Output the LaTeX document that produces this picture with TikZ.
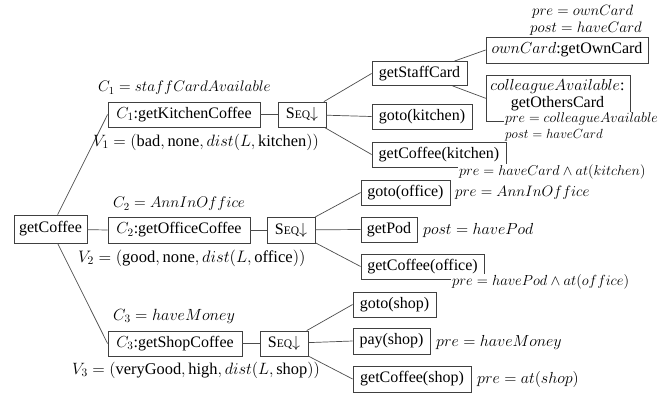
\RequirePackage{fix-cm}
\documentclass[tikz,border=0pt]{standalone}
\usepackage{fontspec}
\setmainfont{Liberation Serif}
\newcommand\up[1]{\mbox{#1}}
\newcommand\seqop{S{\fontsize{11.5}{12}\selectfont EQ}$\downarrow$}
\newcommand\fs[1]{\fontsize{#1}{#1}\selectfont}
\begin{document}
\begin{tikzpicture}[x=1pt,y=-1pt,
  font=\fontsize{16}{17}\selectfont,
  box/.style={draw=black!75, line width=0.8pt, inner sep=0pt, minimum height=25pt},
  lab/.style={inner sep=0pt, anchor=west},
  cover/.style={fill=white, inner xsep=1pt, inner ysep=1pt, anchor=west},
  edge/.style={draw=black!70, line width=0.7pt}]
\useasboundingbox (0,0) rectangle (660,394);
% main boxes
\node[box, minimum width=73pt, minimum height=28pt] (gc) at (50.5,229) {getCoffee};
\node[box, minimum width=152pt] (k) at (184,114.5) {$C_1$:getKitchenCoffee};
\node[box, minimum width=48pt] (s1) at (302,114.5) {\seqop};
\node[box, minimum width=142pt, minimum height=26pt] (o) at (179,230) {$C_2$:getOfficeCoffee};
\node[box, minimum width=48pt, minimum height=26pt] (s2) at (291,230) {\seqop};
\node[box, minimum width=134pt] (sh) at (175,343.5) {$C_3$:getShopCoffee};
\node[box, minimum width=48pt] (s3) at (284,343.5) {\seqop};
% leaves
\node[box, minimum width=95pt, minimum height=24pt] (sc) at (419.5,73.5) {getStaffCard};
\node[box, minimum width=100pt] (gk) at (422,116.5) {goto(kitchen)};
\node[box, minimum width=134pt] (gck) at (439,154.5) {getCoffee(kitchen)\hspace{10pt}};
\node[box, minimum width=162pt, minimum height=26pt] (own) at (567,50) {$ownCard$:getOwnCard};
\node[box, minimum width=144pt, minimum height=46pt, anchor=north west] (col) at (486,75) {};
\node[align=center, inner sep=0pt] (colt) at (557.5,95) {$colleagueAvailable$:\\getOthersCard};
\node[box, minimum width=89pt] (gof) at (405.5,192.5) {goto(office)};
\node[box, minimum width=56pt] (gp) at (389,229.5) {getPod};
\node[box, minimum width=123pt] (gco) at (422.5,266.5) {getCoffee(office)\hspace{4pt}};
\node[box, minimum width=83pt] (gs) at (394.5,304.5) {goto(shop)};
\node[box, minimum width=77pt, minimum height=26pt] (ps) at (391.5,341) {pay(shop)};
\node[box, minimum width=118pt, minimum height=26pt] (gcs) at (412,379) {getCoffee(shop)\hspace{4pt}};
% connectors
\draw[edge] (gc) -- (k.west);
\draw[edge] (gc) -- (o.west);
\draw[edge] (gc) -- (sh.west);
\draw[edge] (k) -- (s1);
\draw[edge] (o) -- (s2);
\draw[edge] (sh) -- (s3);
\draw[edge] (s1) -- (sc.west);
\draw[edge] (s1) -- (gk.west);
\draw[edge] (s1) -- (gck.west);
\draw[edge] (sc) -- (own.west);
\draw[edge] (sc) -- (col.west);
\draw[edge] (s2) -- (gof.west);
\draw[edge] (s2) -- (gp.west);
\draw[edge] (s2) -- (gco.west);
\draw[edge] (s3) -- (gs.west);
\draw[edge] (s3) -- (ps.west);
\draw[edge] (s3) -- (gcs.west);
% condition / value labels
\node[lab, font=\fs{15.3}] (c1) at (98,88) {$C_1 = staffCardAvailable$};
\node[lab, font=\fs{16.4}] (v1) at (93,142) {$V_1 = (\up{bad}, \up{none}, dist(L, \up{kitchen}))$};
\node[lab, font=\fs{15.4}] (c2) at (113,204) {$C_2 = AnnInOffice$};
\node[lab, font=\fs{16.6}] (v2) at (78,258) {$V_2 = (\up{good}, \up{none}, dist(L, \up{office}))$};
\node[lab, font=\fs{16.2}] (c3) at (113,316) {$C_3 = haveMoney$};
\node[lab, font=\fs{16.4}] (v3) at (72,370) {$V_3 = (\up{veryGood}, \up{high}, dist(L, \up{shop}))$};
% pre / post labels
\node[lab, font=\fs{14.9}] (p1) at (532,12) {$pre = ownCard$};
\node[lab, font=\fs{15.1}] (p2) at (530,29) {$post = haveCard$};
\node[cover, inner ysep=0.5pt, font=\fs{14.1}] (p3) at (504,118.5) {$pre = colleagueAvailable$};
\node[cover, font=\fs{13.2}] (p4) at (504,135) {$post = haveCard$};
\node[cover, font=\fs{14.3}] (p5) at (458,172) {$pre = haveCard \wedge at(kitchen)$};
\node[lab, font=\fs{15.1}] (p6) at (455,193) {$pre = AnnInOffice$};
\node[lab, font=\fs{16}] (p7) at (423,230) {$post = havePod$};
\node[cover, font=\fs{14.6}] (p8) at (451,282) {$pre = havePod \wedge at(office)$};
\node[lab, font=\fs{16}] (p9) at (436,342) {$pre = haveMoney$};
\node[lab, font=\fs{16}] (p10) at (477,379) {$pre = at(shop)$};
\end{tikzpicture}
\end{document}
